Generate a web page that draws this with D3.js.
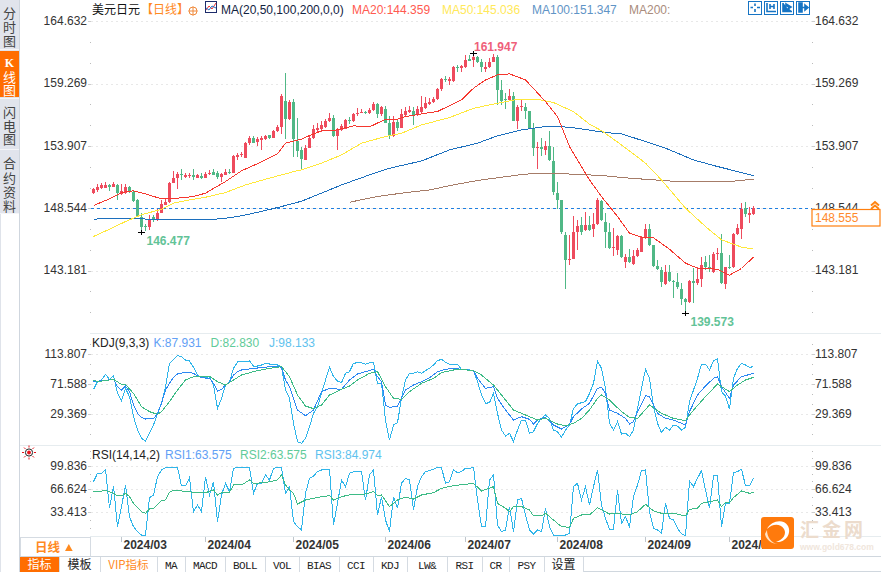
<!DOCTYPE html>
<html><head><meta charset="utf-8">
<script src="https://cdnjs.cloudflare.com/ajax/libs/d3/7.8.5/d3.min.js"></script>
<style>html,body{margin:0;padding:0;background:#fff;overflow:hidden}svg{display:block}text{font-family:"Liberation Sans",Arial,"Noto Sans CJK SC",sans-serif}</style>
</head><body><svg id="c" width="881" height="572"></svg>
<script>
// candles: one value per trading day
const opens=[149.85,150.10,150.28,150.33,150.56,150.42,150.56,149.82,149.85,150.39,
149.99,149.22,147.84,147.04,146.90,147.84,147.53,148.18,148.87,149.05,
150.76,151.14,151.54,151.28,151.33,151.42,151.19,151.34,151.19,151.51,
151.65,151.62,151.22,151.42,151.71,151.62,153.00,153.11,152.91,154.17,
154.63,154.26,154.43,154.52,154.83,154.63,155.20,155.55,157.81,156.21,
157.73,154.37,153.57,152.71,153.77,154.57,155.26,155.37,155.55,156.07,
156.32,154.77,155.32,155.41,156.15,156.04,156.67,156.75,156.87,156.75,
157.04,157.53,156.67,157.10,155.92,154.77,155.98,155.49,156.61,156.87,
156.92,156.55,156.84,157.18,157.53,157.67,157.96,158.79,159.67,159.53,
159.50,160.74,160.65,160.74,161.39,161.31,161.54,161.14,160.56,160.74,
161.14,161.57,158.73,157.96,157.87,158.21,156.09,157.24,157.24,156.92,
155.43,153.77,153.83,153.60,153.89,152.63,149.85,149.27,146.27,144.06,
144.23,146.52,147.12,146.64,147.10,146.75,147.21,149.19,147.41,146.47,
145.12,144.97,146.18,143.97,144.40,143.77,144.46,144.83,146.01,146.81,
145.35,143.60,143.26,142.05,143.08,142.31,142.23,141.65,140.76,140.50,
142.31,142.14,142.51,143.89,143.49,143.08,144.60,144.72,142.05,143.54,
143.46,146.32,146.78,148.59,148.01,148.07];
const closes=[150.22,150.36,150.51,150.53,150.42,150.62,149.85,150.07,150.39,149.99,
149.19,147.90,146.95,146.98,147.50,147.55,148.18,148.93,149.10,150.76,
151.16,151.54,151.37,151.42,151.45,151.22,151.37,151.19,151.54,151.59,
151.45,151.22,151.54,151.71,151.57,153.06,153.17,153.25,154.17,154.63,
154.20,154.55,154.63,154.77,154.57,155.20,155.55,158.21,156.27,157.70,
154.52,153.51,152.77,153.72,154.63,155.37,155.49,155.72,156.07,156.32,
154.77,155.26,155.61,156.15,156.09,156.67,156.75,156.84,156.78,157.04,
157.53,156.67,157.24,155.92,154.77,155.98,155.43,156.67,156.95,157.01,
156.55,157.07,157.24,157.58,157.73,157.96,158.84,159.67,159.59,159.70,
160.71,160.65,160.79,161.31,161.25,161.57,161.14,160.68,160.74,161.14,
161.57,158.73,157.81,157.87,158.21,156.09,157.30,157.35,156.95,155.49,
153.77,153.83,153.69,153.92,152.66,149.93,149.27,146.47,144.06,144.23,
146.52,147.04,146.55,147.10,146.70,147.21,149.22,147.50,146.47,145.12,
145.23,146.18,144.35,144.35,143.89,144.46,144.92,146.07,146.81,145.41,
143.60,143.31,142.25,143.03,142.31,142.20,141.74,140.76,140.53,142.31,
142.14,142.45,143.63,143.46,143.40,144.66,144.72,142.11,143.49,143.46,
146.35,146.87,148.50,148.10,148.16,148.555];
const highs=[150.28,150.65,150.71,150.79,150.62,150.79,150.62,150.62,150.62,150.48,
150.07,149.33,148.13,147.21,147.99,147.99,148.47,149.27,149.33,150.85,
151.79,151.71,151.91,151.59,151.62,151.94,151.51,151.57,151.71,151.85,
151.94,151.79,151.62,151.91,151.97,153.17,153.31,153.40,154.29,154.77,
154.77,154.66,154.77,154.86,154.89,155.29,155.72,158.36,160.22,157.87,
157.96,156.29,153.80,154.00,154.77,155.72,155.87,156.09,156.21,156.72,
156.58,155.49,155.78,156.27,156.38,156.78,157.18,157.07,156.95,157.21,
157.70,157.64,157.35,157.35,156.50,156.50,156.21,157.10,157.24,157.35,
157.30,157.35,158.21,158.16,158.01,158.16,158.90,159.76,159.96,159.87,
160.79,160.85,160.88,161.74,161.71,161.947,161.65,161.37,161.11,161.45,
161.80,161.77,159.59,158.50,158.79,158.53,157.44,157.87,157.64,156.95,
155.87,154.23,154.57,154.35,155.20,153.86,150.79,149.27,146.47,146.27,
147.90,147.55,147.84,148.27,147.90,148.13,149.42,149.27,148.13,147.27,
146.84,146.27,146.27,144.63,145.09,144.97,145.12,146.18,147.21,147.21,
145.41,144.12,143.54,143.69,143.69,142.40,142.97,142.11,140.82,142.40,
143.40,143.54,144.40,144.46,144.55,144.75,145.12,146.35,143.54,144.52,
146.41,147.18,149.04,149.10,148.64,148.76];
const lows=[149.79,149.99,150.22,150.28,150.07,150.36,149.22,149.73,149.79,149.85,
149.10,147.84,146.477,146.60,146.64,147.35,147.47,148.13,148.81,148.99,
150.71,150.19,150.99,151.19,151.14,150.99,151.14,151.11,151.14,151.42,
151.39,151.08,150.82,151.37,151.51,151.57,152.66,153.00,152.86,153.95,
154.14,153.92,153.57,154.43,154.52,154.57,155.15,154.92,154.52,156.12,
153.00,153.00,151.85,152.71,153.72,154.52,155.00,155.15,155.49,156.01,
154.66,153.57,155.23,155.35,155.81,155.98,156.49,156.72,156.67,156.64,
156.95,156.32,156.49,155.86,154.52,154.72,155.23,155.43,156.49,156.78,
155.72,156.49,156.72,157.12,157.44,157.58,157.87,158.62,159.45,159.16,
159.45,160.31,160.25,160.65,161.19,160.74,161.02,160.31,160.31,160.65,
161.11,157.47,157.41,157.12,157.81,156.07,155.37,156.92,156.24,155.43,
153.06,151.94,153.06,153.11,152.60,149.65,148.47,146.35,141.65,143.63,
144.17,144.97,146.29,146.58,146.58,146.12,147.15,147.44,145.12,145.03,
144.46,144.55,144.26,143.43,143.83,143.69,144.40,144.78,145.95,145.32,
143.54,143.20,141.77,141.97,142.23,140.82,141.65,140.25,139.573,140.39,
140.39,141.97,141.77,143.26,143.11,142.97,144.12,142.05,141.65,143.31,
143.40,146.27,145.89,147.84,147.32,147.98];

// moving averages: day index and value read at each visible bend
const ma20Day=[0,4,7,10,13,17,20,25,28,33,37,42,46,48,52,53,57,60,65,69,73,76,78,83,86,89,92,95,98,101,104,108,113,116,119,124,127,131,134,137,140,144,148,151,156,159,162,165];
const ma20Val=[148.79,149.36,149.90,150.05,149.79,149.36,149.39,149.56,149.85,150.85,151.77,152.54,153.23,154.15,154.49,154.66,155.21,155.23,155.64,155.55,156.21,156.21,156.44,156.72,156.87,157.38,157.87,158.87,159.59,160.02,160.11,159.59,157.73,156.44,153.86,150.99,149.56,147.84,146.41,146.07,146.01,145.03,143.83,143.40,143.31,142.80,143.37,144.359];
const ma50Day=[0,4,8,12,17,20,24,28,33,38,43,47,51,52,57,62,67,73,77,82,89,95,101,106,111,115,120,124,127,132,138,142,148,153,157,162,165];
const ma50Val=[146.12,146.75,147.41,147.99,148.47,148.99,149.27,149.50,149.90,150.56,151.05,151.42,151.79,151.85,152.43,153.14,154.15,154.72,155.00,155.72,156.35,157.15,157.58,157.93,157.93,157.64,156.87,155.78,155.23,154.00,152.43,150.99,148.56,146.98,145.84,145.21,145.036];
const ma100Day=[0,3,10,16,22,27,32,37,43,47,52,57,62,69,74,82,89,96,101,107,113,116,121,128,132,138,143,150,155,161,165];
const ma100Val=[147.61,147.67,147.70,147.55,147.55,147.58,147.64,147.90,148.36,148.70,149.16,149.85,150.56,151.42,151.99,152.62,153.57,154.15,154.78,155.29,155.58,155.61,155.43,155.06,154.95,154.29,153.72,152.71,152.23,151.71,151.347];
const ma200Day=[64,71,77,84,90,96,102,107,111,118,127,134,146,159,165];
const ma200Val=[149.07,149.56,149.85,150.13,150.56,150.94,151.22,151.45,151.57,151.51,151.37,151.14,150.85,150.85,151.05];

// KDJ
const kdjJ=[64.3,75.1,77.4,85.3,78.3,83.5,58.7,48.5,65.8,54.1,26.1,7.4,-4.2,-8.0,2.8,14.4,30.7,44.7,68.1,100.7,
106.3,111.5,110.1,105.4,104.0,95.1,84.4,80.7,80.7,82.1,70.4,37.7,51.7,70.4,75.1,93.7,102.6,103.5,103.1,104.0,
97.0,97.0,98.4,100.7,99.8,99.3,98.4,96.1,63.4,51.7,16.7,-8.9,-11.2,-4.2,12.1,30.7,40.1,58.7,77.4,95.1,
82.1,76.0,73.7,86.7,89.1,100.7,101.7,101.7,99.3,101.7,102.1,72.7,72.7,21.4,-6.6,14.4,17.7,51.7,77.4,86.7,
86.7,89.1,86.7,90.5,93.7,98.4,104.5,106.3,102.1,99.3,99.8,99.8,92.3,91.9,91.4,90.5,75.1,56.4,44.7,45.7,
58.7,30.7,7.4,-1.0,2.8,-8.9,7.4,21.4,21.4,2.8,5.1,16.7,23.7,28.4,23.7,7.4,5.1,-2.8,7.4,14.4,
37.7,43.8,45.7,47.1,58.7,72.7,104.0,93.7,65.8,16.7,7.4,19.1,1.8,2.8,-1.9,7.4,37.7,65.8,92.3,79.7,
40.1,16.7,3.7,11.2,7.4,14.4,13.0,7.4,11.2,47.1,63.4,79.7,99.8,99.8,91.4,104.5,106.8,61.1,55.0,36.8,
79.7,93.7,100.7,98.4,95.1,96.1];
const kdjKDay=[0,2,5,6,7,8,9,10,11,12,13,15,16,17,18,19,20,21,23,24,25,26,27,29,30,31,32,33,34,35,36,37,40,42,44,46,47,48,49,50,51,53,55,57,59,62,64,66,68,70,71,72,73,74,76,77,78,80,82,84,86,88,90,92,95,96,98,100,101,103,105,107,109,110,111,113,115,117,119,120,122,124,126,127,128,129,131,133,134,135,136,138,139,141,143,145,148,149,151,153,155,156,157,159,160,162,165];
const kdjKVal=[75.1,76.5,78.3,68.1,63.4,69.0,61.1,42.4,30.7,25.1,22.8,23.7,29.8,44.7,63.4,72.7,81.2,85.8,88.1,88.1,86.7,83.5,80.7,79.7,72.7,62.0,64.3,70.4,75.1,84.4,89.1,91.4,93.7,94.7,96.1,97.0,95.1,77.4,68.1,51.7,35.4,27.5,35.4,61.1,65.7,64.3,77.4,85.8,89.1,92.3,82.1,75.1,42.4,39.1,41.0,51.7,63.4,70.4,75.1,80.7,89.1,92.3,93.7,92.3,90.5,79.7,65.7,68.1,51.7,35.4,21.4,26.1,22.4,15.8,21.4,25.1,14.4,8.8,15.4,26.1,36.8,44.8,65.7,67.1,58.7,35.4,30.7,23.7,15.8,19.1,33.1,55.5,54.1,30.7,23.7,21.4,14.4,33.1,56.4,69.0,79.7,82.1,68.1,51.7,70.4,82.1,86.7];
const kdjDDay=[0,1,2,5,7,8,10,12,14,16,17,19,21,23,25,27,29,31,33,35,37,40,43,47,49,51,53,55,57,59,62,64,66,69,71,73,75,77,79,82,85,87,90,92,95,97,100,103,105,108,111,113,116,118,120,122,124,126,127,129,132,134,136,139,142,145,148,150,153,156,159,161,163,165];
const kdjDVal=[77.4,75.1,76.0,78.3,71.3,71.3,58.7,40.1,33.1,29.4,33.1,47.1,63.4,77.4,82.1,83.0,82.5,75.1,70.4,77.4,84.4,89.1,92.8,96.1,82.1,56.4,41.0,37.3,42.4,56.4,64.3,69.0,77.4,86.7,89.1,68.1,51.7,50.3,61.1,72.7,79.7,87.7,91.4,92.3,90.5,84.4,70.4,49.4,35.4,28.4,21.4,23.7,15.8,13.5,16.7,23.7,35.4,51.7,56.4,49.4,33.1,25.1,23.7,42.4,30.7,23.7,20.5,35.4,54.1,71.8,61.1,70.4,77.4,81.1];

// RSI
const rsi3=[77.4,89.3,89.3,95.1,39.2,71.2,12.9,41.6,72.6,27.2,12.9,5.7,0.9,0.9,54.5,58.3,84.6,94.1,97.5,98.0,
98.0,98.0,71.2,71.2,83.1,34.4,44.0,34.4,84.6,58.3,77.4,20.0,58.3,75.0,63.1,96.5,97.5,97.5,97.5,98.0,
60.7,75.0,75.0,87.0,79.8,96.5,98.0,98.0,60.7,70.2,20.0,12.9,8.1,60.7,82.2,85.5,91.7,94.1,95.1,95.1,
15.3,46.3,79.8,70.2,89.3,91.7,91.7,91.7,51.1,87.0,94.1,29.6,55.9,22.4,5.7,55.9,39.2,75.0,82.2,79.8,
36.8,70.2,84.6,91.7,93.2,95.1,98.0,97.5,75.0,77.4,94.1,90.3,91.7,96.5,96.5,98.0,51.1,12.9,12.9,79.8,
87.0,15.3,5.7,8.1,41.6,5.7,51.1,53.5,29.6,8.1,2.4,8.1,5.7,39.2,12.9,0.9,0.0,0.0,0.9,3.3,
70.2,75.0,51.1,70.2,44.0,70.2,94.1,44.0,24.8,9.1,9.1,65.5,17.7,27.2,12.9,55.9,72.6,93.2,94.1,34.4,
10.5,8.1,3.3,46.3,24.8,22.4,10.5,2.4,0.0,78.4,70.2,82.2,93.2,65.5,39.2,85.5,86.5,12.9,46.3,46.3,
90.3,91.7,95.1,71.7,71.7,82.2];
const rsi2Day=[0,3,5,6,7,8,9,10,12,13,14,15,17,18,19,20,22,25,28,30,31,32,34,35,37,39,40,43,46,47,48,49,50,51,53,57,59,60,62,64,68,70,71,72,74,76,78,80,82,85,87,90,95,97,100,101,103,104,105,107,109,110,112,113,115,117,119,120,122,124,126,129,131,134,136,138,140,142,145,148,149,151,152,154,156,157,158,159,160,162,164,165];
const rsi2Val=[62.6,64.5,60.7,56.9,56.9,60.7,55.9,46.3,34.4,32.0,38.2,39.2,50.2,51.1,62.1,65.0,64.0,62.1,61.6,65.5,58.3,61.6,62.1,72.6,72.6,79.8,75.0,76.0,79.8,87.0,72.6,65.5,60.7,45.4,51.1,55.9,57.3,51.1,55.9,58.3,59.7,63.1,57.3,58.3,41.6,51.1,55.0,52.5,58.3,61.6,67.8,71.7,75.0,64.0,70.2,46.3,39.2,34.4,41.6,41.6,36.8,28.2,28.2,32.0,22.4,12.9,11.9,24.8,29.6,29.6,40.1,31.0,32.0,29.6,34.4,44.9,35.4,32.0,32.0,28.2,37.7,39.2,46.3,48.7,51.1,41.6,47.3,47.3,54.5,64.0,60.7,62.1];

// axis labels
const priceTicks=[164.632,159.269,153.907,148.544,143.181];
const kdjTicks=[113.807,71.588,29.369];
const rsiTicks=[99.836,66.624,33.413];
const monthDay=[7,28,50,73,93,116,138,159];
const monthLabel=["2024/03","2024/04","2024/05","2024/06","2024/07","2024/08","2024/09","2024/10"];
const toolbar=["指标","模板","VIP指标","MA","MACD","BOLL","VOL","BIAS","CCI","KDJ","LW&","RSI","CR","PSY","设置"];
const toolbarEdges=[20,59,100,157,185,225,265,299,339,373,407,447,482,509,544,583];
const sideTabs=[["分","时","图"],["K","线","图"],["闪","电","图"],["合","约","资","料"]];
const highLabel={day:95,value:161.947},lowLabel={day:12,value:146.477},low2Label={day:148,value:139.573};
const lastPrice=148.555;

const svg=d3.select("#c");
const X=d3.scaleLinear().domain([0,165]).range([93.5,753.5]);
const Y=d3.scaleLinear().domain([164.632,143.181]).range([21.3,270.7]);
const YK=d3.scaleLinear().domain([113.807,29.369]).range([354,414.33]);
const YR=d3.scaleLinear().domain([99.836,33.413]).range([466,512.33]);
const RED="#ee4b5d",GREEN="#50b886",L=91,R=812;

// frame lines
const frame=svg.append("g").attr("shape-rendering","crispEdges");
[[333,90,881],[445,20,881],[536,90,881]].forEach(a=>frame.append("line").attr("x1",a[1]).attr("x2",a[2]).attr("y1",a[0]+.5).attr("y2",a[0]+.5).attr("stroke","#e6ecef"));
frame.append("line").attr("x1",19.5).attr("x2",19.5).attr("y1",0).attr("y2",572).attr("stroke","#cfd6de");
frame.append("rect").attr("x",0).attr("y",0).attr("width",19).attr("height",214).attr("fill","#e1e4ec");
frame.append("rect").attr("x",0).attr("y",214).attr("width",1).attr("height",358).attr("fill","#dfe3ea");

// side tabs
const tabTop=[[13,27,41],[62,77,90],[112,126,139],[163,178,192,206]];
frame.append("rect").attr("x",0).attr("y",51).attr("width",19).attr("height",46).attr("fill","#ff6d00");
[49,98,149,213].forEach(y=>frame.append("rect").attr("x",0).attr("y",y).attr("width",19).attr("height",1).attr("fill","#f4f5f8"));
sideTabs.forEach((t,i)=>t.forEach((c,j)=>svg.append("text").attr("x",9.5).attr("y",tabTop[i][j]+4.6).attr("text-anchor","middle")
  .attr("font-size",c==="K"?12:13)
  .style("font-family",c==="K"?"Liberation Serif":null).attr("font-weight",c==="K"?"bold":"normal").attr("fill",i===1?"#fff":"#444").text(c)));

// grids, ticks and axis labels for each panel
function panel(scale,ticks,top,bottom){
  const g=svg.append("g");
  const step=(ticks[0]-ticks[1])/3;
  const minor=[];
  for(let v=ticks[0]+step;scale(v)>top;v+=step)minor.push(v);
  for(let v=ticks[0];scale(v)<bottom;v-=step)minor.push(v);
  [90,812].forEach(x=>g.selectAll(null).data(minor).join("rect").attr("x",x).attr("y",d=>Math.round(scale(d))).attr("width",1).attr("height",1).attr("fill","#bbb"));
  g.selectAll(null).data(ticks).join("line").attr("x1",L).attr("x2",R).attr("y1",d=>Math.round(scale(d))+.5).attr("y2",d=>Math.round(scale(d))+.5)
    .attr("stroke","#e8e8e8").attr("stroke-dasharray","2,3").attr("shape-rendering","crispEdges");
  g.selectAll(null).data(ticks).join("rect").attr("x",88).attr("y",d=>Math.round(scale(d))).attr("width",3).attr("height",1).attr("fill","#ccc");
  g.selectAll(null).data(ticks).join("rect").attr("x",812).attr("y",d=>Math.round(scale(d))).attr("width",3).attr("height",1).attr("fill","#ccc");
  g.selectAll(null).data(ticks).join("text").attr("x",87).attr("y",d=>scale(d)+3.6).attr("text-anchor","end").attr("font-size",12).attr("fill","#333").text(d=>d.toFixed(3));
  g.selectAll(null).data(ticks).join("text").attr("x",815).attr("y",d=>scale(d)+3.6).attr("font-size",12).attr("fill","#333").text(d=>d.toFixed(3));
}
panel(Y,priceTicks,12,330);
panel(YK,kdjTicks,338,440);
panel(YR,rsiTicks,450,534);

// last-price guide
svg.append("line").attr("x1",L).attr("x2",R).attr("y1",Math.round(Y(lastPrice))+.5).attr("y2",Math.round(Y(lastPrice))+.5)
  .attr("stroke","#1f7fe0").attr("stroke-dasharray","3,3").attr("shape-rendering","crispEdges");

function lineOf(days,vals,scale,color){
  svg.append("path").attr("fill","none").attr("stroke",color).attr("stroke-width",1).attr("shape-rendering","crispEdges")
    .attr("d",d3.line().x(d=>X(d)).y((d,i)=>scale(vals[i]))(days));
}
// candles
const candles=svg.append("g").attr("shape-rendering","crispEdges");
const rows=d3.range(opens.length);
const col=i=>closes[i]>=opens[i]?RED:GREEN;
candles.selectAll(".w").data(rows).join("rect").attr("class","w").attr("x",i=>X(i)-.5).attr("width",1)
  .attr("y",i=>Y(highs[i])).attr("height",i=>Math.max(1,Y(lows[i])-Y(highs[i]))).attr("fill",col);
candles.selectAll(".b").data(rows).join("rect").attr("class","b").attr("x",i=>X(i)-1.5).attr("width",3)
  .attr("y",i=>Y(Math.max(opens[i],closes[i]))).attr("height",i=>Math.max(1,Math.abs(Y(opens[i])-Y(closes[i])))).attr("fill",col);

lineOf(ma200Day,ma200Val,Y,"#a67c68");
lineOf(ma100Day,ma100Val,Y,"#1c6fbd");
lineOf(ma50Day,ma50Val,Y,"#ffe83a");
lineOf(ma20Day,ma20Val,Y,"#f5372e");

// extreme markers
function extreme(p,dx,dy,color){
  const x=X(p.day),y=Math.round(Y(p.value))+.5;
  svg.append("path").attr("d",`M${x-3.5},${y}H${x+3.5}M${x},${y-2.5}V${y+2.5}`).attr("stroke","#000").attr("fill","none").attr("shape-rendering","crispEdges");
  svg.append("text").attr("x",x+dx).attr("y",y+dy).attr("font-size",12).attr("font-weight","bold").attr("fill",color).text(p.value.toFixed(3));
}
extreme(highLabel,0.5,-2.5,"#ef5f7a");
extreme(lowLabel,5,12.5,"#62c397");
extreme(low2Label,5,12.5,"#62c397");

// KDJ and RSI lines
lineOf(rows,kdjJ,YK,"#2fb5ea");
lineOf(kdjKDay,kdjKVal,YK,"#2c88f3");
lineOf(kdjDDay,kdjDVal,YK,"#3dbb86");
lineOf(rows,rsi3,YR,"#2fb5ea");
lineOf(rsi2Day,rsi2Val,YR,"#3dbb86");

// header texts
function label(x,y,s,c,o){const t=svg.append("text").attr("x",x).attr("y",y).attr("font-size",12).attr("fill",c).text(s);if(o)Object.keys(o).forEach(k=>t.attr(k,o[k]));return t;}
label(92,14,"美元日元","#111");
label(141,14,"【日线】","#ff8a1f");
svg.append("circle").attr("cx",193).attr("cy",11).attr("r",4).attr("fill","none").attr("stroke","#f08a3c");
svg.append("path").attr("d","M188.5,11H197.5M193,6.5V15.5").attr("stroke","#f08a3c").attr("fill","none");
svg.append("rect").attr("x",205.5).attr("y",1.5).attr("width",11).attr("height",11).attr("fill","#fff").attr("stroke","#1d2c6b");
svg.append("path").attr("d","M206,10L209,6L212,9L216,3").attr("stroke","#e33").attr("fill","none");
svg.append("path").attr("d","M206,8L209,10L212,6L216,8").attr("stroke","#27c").attr("fill","none");
label(221,14,"MA(20,50,100,200,0,0)","#12233f");
label(352,14,"MA20:144.359","#ff5a50");
label(442,14,"MA50:145.036","#ffe95a");
label(532,14,"MA100:151.347","#5f94c6");
label(629,14,"MA200:","#aa8c7c");
label(92,347,"KDJ(9,3,3)","#222");
label(153.5,347,"K:87.931","#62a0f5");
label(210.5,347,"D:82.830","#5fcb99");
label(269,347,"J:98.133","#5ec2ee");
label(92,459,"RSI(14,14,2)","#222");
label(165,459,"RSI1:63.575","#62a0f5");
label(240,459,"RSI2:63.575","#5fcb99");
label(315,459,"RSI3:84.974","#5ec2ee");

// top-right tool buttons
[748,764,780,796].forEach((x,i)=>{
  svg.append("rect").attr("x",x+.5).attr("y",1.5).attr("width",13).attr("height",13).attr("fill","#fff").attr("stroke","#1674c4").attr("stroke-width",1.2).attr("shape-rendering","crispEdges");
  const p=["M"+(x+7)+",3.5V6M"+(x+7)+",9V12M"+(x+2.5)+",7.5H"+(x+5)+"M"+(x+9)+",7.5H"+(x+12),
    "M"+(x+3)+",3V11.5H"+(x+12)+"M"+(x+6)+",4V9M"+(x+10)+",4V9M"+(x+6)+",6.5H"+(x+10),
    "M"+(x+3)+",3V11.5H"+(x+12)+"M"+(x+6)+",4L"+(x+11)+",7L"+(x+6)+",10Z",
    "M"+(x+3)+",3V12H"+(x+6)+"V3ZM"+(x+6)+",7.5H"+(x+9)+"M"+(x+9)+",5L"+(x+12)+",7.5L"+(x+9)+",10Z"][i];
  svg.append("path").attr("d",p).attr("fill",i>=2?"#1674c4":"none").attr("stroke","#1674c4").attr("stroke-width",1.6);
});

// last-price box and arrows
svg.append("rect").attr("x",812).attr("y",209.5).attr("width",68).attr("height",16.5).attr("fill","#fff").attr("stroke","#ff7f0e").attr("stroke-width",1.2);
label(815,222,lastPrice.toFixed(3),"#ff8a2b");
svg.append("path").attr("d","M871,205.5L875,202L879,205.5M871,209L875,205.5L879,209").attr("fill","none").attr("stroke","#ff8410").attr("stroke-width",1.9);

// sun icon
const sun=svg.append("g").attr("transform","translate(29,452.5)");
sun.append("circle").attr("r",3.6).attr("fill","#fff").attr("stroke","#222");
sun.append("circle").attr("r",1.9).attr("fill","#e8121a");
d3.range(8).forEach(i=>{const a=i*Math.PI/4;sun.append("line").attr("x1",5*Math.cos(a)).attr("y1",5*Math.sin(a)).attr("x2",7*Math.cos(a)).attr("y2",7*Math.sin(a)).attr("stroke","#e8121a");});

// month axis
svg.append("g").selectAll("rect").data(monthDay).join("rect").attr("x",d=>Math.floor(X(d))).attr("y",537).attr("width",1).attr("height",5).attr("fill","#bfc6cc").attr("shape-rendering","crispEdges");
svg.append("g").selectAll("text").data(monthDay).join("text").attr("x",d=>X(d)+2).attr("y",549).attr("font-size",12).attr("font-weight","bold").attr("fill","#333").text((d,i)=>monthLabel[i]);

// period box
frame.append("rect").attr("x",20.5).attr("y",537).attr("width",69.5).attr("height",19).attr("fill","#fff").attr("stroke","#d5dbe2");
svg.append("text").attr("x",35).attr("y",552).attr("font-size",12.5).attr("font-weight","bold").attr("fill","#ff8a1f").text("日线");
svg.append("path").attr("d","M65,551L68.8,544L72.7,551Z").attr("fill","#ff8a1f");

// toolbar
const tb=svg.append("g");
tb.append("rect").attr("x",20).attr("y",556).attr("width",861).attr("height",1).attr("fill","#d0d7de").attr("shape-rendering","crispEdges");
tb.append("rect").attr("x",583).attr("y",571).attr("width",298).attr("height",1).attr("fill","#d0d7de");
tb.append("rect").attr("x",20).attr("y",557).attr("width",39).attr("height",15).attr("fill","#ff6d00");
toolbarEdges.slice(1).forEach(x=>tb.append("rect").attr("x",x).attr("y",557).attr("width",1).attr("height",15).attr("fill","#d5dbe2"));
toolbar.forEach((s,i)=>{
  const cx=(toolbarEdges[i]+toolbarEdges[i+1])/2;
  const cjk=/[\u4e00-\u9fff]/.test(s)&&s.indexOf("VIP")<0;
  tb.append("text").attr("x",cx).attr("y",cjk?569:568.5).attr("text-anchor","middle")
   .attr("font-size",cjk?12:(i===2?11.5:11))
   .attr("letter-spacing",cjk||i===2?0:-0.6)
   .style("font-family",cjk||i===2?"'Noto Sans CJK SC'":"'Liberation Mono'")
   .attr("fill",i===0?"#fff":(i===2?"#ff8a1f":"#222")).text(s);
});

// watermark
const wm=svg.append("g");
wm.append("rect").attr("x",761).attr("y",517).attr("width",33).attr("height",32).attr("rx",3).attr("fill","#ff7a0c");
wm.append("path").attr("d","M767,529C771,521 783,518 788,526C792,534 785,543 776,542C783,540 787,534 784,529C780,523 772,524 767,529Z").attr("fill","#fff");
wm.append("path").attr("d","M767,530C767,537 771,543 778,544C772,544 766,540 765,534Z").attr("fill","#ffe3c6");
wm.append("text").attr("x",800).attr("y",537).attr("font-size",19).attr("font-weight","bold").attr("letter-spacing",3).attr("fill","#ecdccd").style("font-family","'Noto Sans CJK SC'").text("汇金网");
wm.append("text").attr("x",800).attr("y",550).attr("font-size",8.5).attr("font-weight","bold").attr("fill","#f0e6dc").text("www.gold678.com");
</script></body></html>
